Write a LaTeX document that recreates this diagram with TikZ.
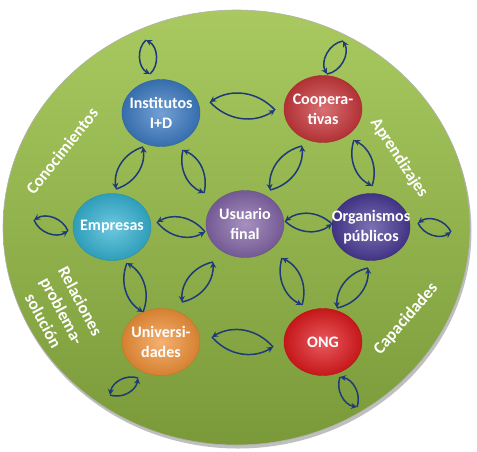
\documentclass[tikz,border=0pt]{standalone}
\usepackage{fontspec}
\setmainfont{Carlito}
\usetikzlibrary{arrows.meta,shapes.geometric}
\definecolor{bgtop}{HTML}{A9C960}
\definecolor{bgbot}{HTML}{7A9A3A}
\definecolor{arrc}{HTML}{1F3A78}
\definecolor{cinst}{HTML}{3D7CC4}
\definecolor{ccoop}{HTML}{C9383C}
\definecolor{cemp}{HTML}{35B3D3}
\definecolor{cusu}{HTML}{8466A8}
\definecolor{corg}{HTML}{4A3A96}
\definecolor{cuni}{HTML}{F29238}
\definecolor{cong}{HTML}{E01A1E}
\tikzset{
  actor/.style={ellipse, minimum width=78pt, minimum height=67pt, inner sep=0pt,
    draw=#1!80!black, line width=0.4pt, inner color=#1!72!white, outer color=#1!88!black},
  lbl/.style={align=center, text=white, inner sep=0pt,
    font=\bfseries\fontsize{16}{20}\selectfont},
  arr/.style={draw=arrc, line width=1.5pt, -{Stealth[length=6pt,width=6pt]}},
  side/.style={text=white, font=\bfseries\fontsize{17}{21}\selectfont, align=center}
}
\newcommand\lens[3][40]{%
  \draw[arr] (#2) to[bend right=#1] (#3);
  \draw[arr] (#3) to[bend right=#1] (#2);}
\begin{document}
\begin{tikzpicture}[x=1pt,y=-1pt]
\useasboundingbox (0,0) rectangle (477,451);
\fill[black!25] (238,231) ellipse [x radius=233.5, y radius=217.5];
\shade[top color=bgtop, bottom color=bgbot, draw=gray!60, line width=0.6pt]
  (236.5,227.5) ellipse [x radius=233.5, y radius=217.5];

\node[actor=cinst, label={[lbl]center:Institutos\\I+D}] (inst) at (161,113) {};
\node[actor=ccoop, label={[lbl]center:Coopera-\\tivas}] (coop) at (323,109) {};
\node[actor=cemp,  label={[lbl]center:Empresas}] (emp) at (112,227) {};
\node[actor=cusu,  label={[lbl]center:Usuario\\final}] (usu) at (245,224) {};
\node[actor=corg,  label={[lbl]center:Organismos\\públicos}] (org) at (371,227) {};
\node[actor=cuni,  label={[lbl]center:Universi-\\dades}] (uni) at (161,342) {};
\node[actor=cong,  label={[lbl]center:ONG}] (ong) at (323,342) {};

\node[side, rotate=51.6] (lconoc) at (62,151) {Conocimientos};
\node[side, rotate=-56.6] (laprend) at (399,158) {Aprendizajes};
\node[side, rotate=49] (lcapac) at (406,319) {Capacidades};
\node[side, rotate=-62] (lrel) at (62,311) {Relaciones\\problema-\\solución};

\coordinate (a1) at (146,40);  \coordinate (b1) at (150,74);
\coordinate (a2) at (210,102); \coordinate (b2) at (275,110);
\coordinate (a3) at (343,41);  \coordinate (b3) at (327,74);
\coordinate (a4) at (143,147); \coordinate (b4) at (116,189);
\coordinate (a5) at (183,150); \coordinate (b5) at (204,193);
\coordinate (a6) at (302,146); \coordinate (b6) at (270,190);
\coordinate (a7) at (354,140); \coordinate (b7) at (372,186);
\coordinate (a8) at (34,220);  \coordinate (b8) at (68,231);
\coordinate (a9) at (157,222); \coordinate (b9) at (205,232);
\coordinate (a10) at (285,221); \coordinate (b10) at (332,224);
\coordinate (a11) at (418,223); \coordinate (b11) at (451,232);
\coordinate (a12) at (127,263); \coordinate (b12) at (143,312);
\coordinate (a13) at (213,262); \coordinate (b13) at (182,302);
\coordinate (a14) at (212,337); \coordinate (b14) at (273,347);
\coordinate (a15) at (138,378); \coordinate (b15) at (110,395);
\coordinate (a16) at (282,258); \coordinate (b16) at (302,305);
\coordinate (a17) at (368,268); \coordinate (b17) at (337,308);
\coordinate (a18) at (340,377); \coordinate (b18) at (357,407);

\lens[55]{a1}{b1}
\lens{a2}{b2}
\lens[55]{a3}{b3}
\lens{a4}{b4}
\lens{a5}{b5}
\lens{a6}{b6}
\lens{a7}{b7}
\lens[50]{a8}{b8}
\lens{a9}{b9}
\lens{a10}{b10}
\lens[50]{a11}{b11}
\lens{a12}{b12}
\lens{a13}{b13}
\lens{a14}{b14}
\lens[50]{a15}{b15}
\lens{a16}{b16}
\lens{a17}{b17}
\lens[50]{a18}{b18}
\end{tikzpicture}
\end{document}
